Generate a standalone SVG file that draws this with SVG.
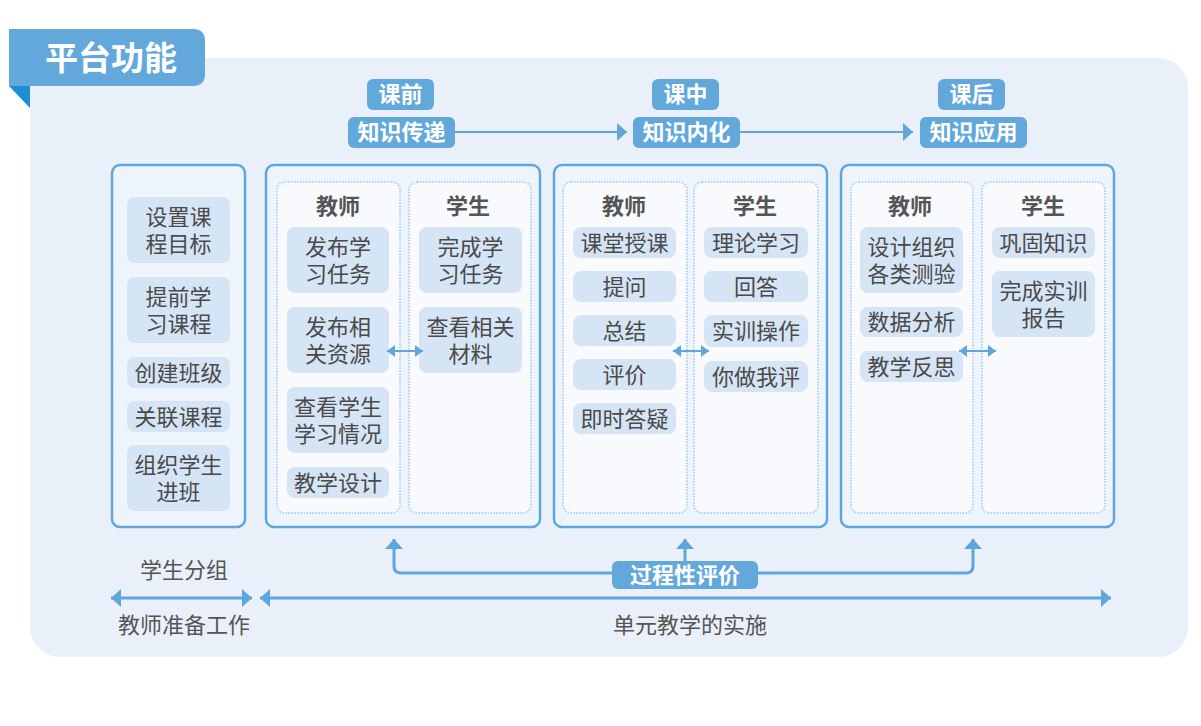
<svg xmlns="http://www.w3.org/2000/svg" width="1201" height="726" viewBox="0 0 1201 726">
<style>
text{font-family:"Liberation Sans","Noto Sans CJK SC",sans-serif;}
.panel{fill:#EEF4FB;stroke:#5FA6DC;stroke-width:2.5;}
.inner{fill:#F8FAFE;stroke:#B3D1EE;stroke-width:2;stroke-dasharray:1.5 1.5;}
.item{fill:#D6E5F5;}
.it{font-size:22px;fill:#4A4A4A;text-anchor:middle;}
.hd{font-size:22px;font-weight:bold;fill:#555555;text-anchor:middle;}
.tag{fill:#62A8DB;}
.tt{font-size:22px;font-weight:bold;fill:#FFFFFF;text-anchor:middle;}
.lbl{font-size:22px;fill:#555555;text-anchor:middle;}
.ln{fill:none;stroke:#5FA6DC;stroke-width:3;}
.lnt{fill:none;stroke:#5FA6DC;stroke-width:2.2;}
</style>
<defs>
<marker id="ah" markerUnits="userSpaceOnUse" markerWidth="12" markerHeight="18" refX="10" refY="9" orient="auto-start-reverse"><path d="M0,0 L10,9 L0,18 Z" fill="#5FA6DC"/></marker>
<marker id="as" markerUnits="userSpaceOnUse" markerWidth="9" markerHeight="12" refX="8" refY="6" orient="auto-start-reverse"><path d="M0,0 L8,6 L0,12 Z" fill="#5FA6DC"/></marker>
</defs>
<rect x="0" y="0" width="1201" height="726" fill="#FFFFFF"/>
<rect x="30" y="58" width="1158" height="599" rx="30" fill="#EAF0F9"/>
<g id="title">
<path d="M9,29 H193 Q205,29 205,41 V74 Q205,86 193,86 H9 Z" fill="#62A8DB"/>
<path d="M9,86 H30 V108 Z" fill="#1B8FD3"/>
<text x="111" y="70" font-size="33" font-weight="bold" fill="#FFFFFF" text-anchor="middle">平台功能</text>
</g>
<g id="stage-pre">
<rect class="tag" x="367" y="79" width="67" height="31" rx="6"/>
<text class="tt" x="400.5" y="102">课前</text>
<rect class="tag" x="348" y="117" width="107" height="31" rx="6"/>
<text class="tt" x="401.5" y="140">知识传递</text>
</g>
<g id="stage-mid">
<rect class="tag" x="652" y="79" width="67" height="31" rx="6"/>
<text class="tt" x="685.5" y="102">课中</text>
<rect class="tag" x="633" y="117" width="107" height="31" rx="6"/>
<text class="tt" x="686.5" y="140">知识内化</text>
</g>
<g id="stage-post">
<rect class="tag" x="938" y="79" width="67" height="31" rx="6"/>
<text class="tt" x="971.5" y="102">课后</text>
<rect class="tag" x="920" y="117" width="107" height="31" rx="6"/>
<text class="tt" x="973.5" y="140">知识应用</text>
</g>
<g id="prep-panel">
<rect class="panel" x="112" y="165" width="133" height="362" rx="8"/>
<rect class="item" x="127" y="197" width="103" height="66" rx="8"/>
<text class="it" x="178.5" y="224.5">设置课<tspan x="178.5" dy="27">程目标</tspan></text>
<rect class="item" x="127" y="277" width="103" height="66" rx="8"/>
<text class="it" x="178.5" y="304.5">提前学<tspan x="178.5" dy="27">习课程</tspan></text>
<rect class="item" x="127" y="357" width="103" height="31" rx="8"/>
<text class="it" x="178.5" y="380.5">创建班级</text>
<rect class="item" x="127" y="401" width="103" height="31" rx="8"/>
<text class="it" x="178.5" y="424.5">关联课程</text>
<rect class="item" x="127" y="445" width="103" height="66" rx="8"/>
<text class="it" x="178.5" y="472.5">组织学生<tspan x="178.5" dy="27">进班</tspan></text>
</g>
<g id="panel-pre">
<rect class="panel" x="266" y="165" width="274" height="362" rx="8"/>
<rect class="inner" x="277" y="182" width="123" height="331" rx="8"/>
<rect class="inner" x="409" y="182" width="122" height="331" rx="8"/>
<text class="hd" x="338" y="214">教师</text>
<text class="hd" x="468" y="214">学生</text>
<rect class="item" x="287" y="227" width="102" height="66" rx="8"/>
<text class="it" x="338" y="254.5">发布学<tspan x="338" dy="27">习任务</tspan></text>
<rect class="item" x="287" y="307" width="102" height="66" rx="8"/>
<text class="it" x="338" y="334.5">发布相<tspan x="338" dy="27">关资源</tspan></text>
<rect class="item" x="287" y="387" width="102" height="66" rx="8"/>
<text class="it" x="338" y="414.5">查看学生<tspan x="338" dy="27">学习情况</tspan></text>
<rect class="item" x="287" y="467" width="102" height="31" rx="8"/>
<text class="it" x="338" y="490.5">教学设计</text>
<rect class="item" x="419" y="227" width="103" height="66" rx="8"/>
<text class="it" x="470.5" y="254.5">完成学<tspan x="470.5" dy="27">习任务</tspan></text>
<rect class="item" x="419" y="307" width="103" height="66" rx="8"/>
<text class="it" x="470.5" y="334.5">查看相关<tspan x="470.5" dy="27">材料</tspan></text>
</g>
<g id="panel-mid">
<rect class="panel" x="554" y="165" width="273" height="362" rx="8"/>
<rect class="inner" x="563" y="182" width="124" height="331" rx="8"/>
<rect class="inner" x="694" y="182" width="124" height="331" rx="8"/>
<text class="hd" x="624" y="214">教师</text>
<text class="hd" x="755" y="214">学生</text>
<rect class="item" x="573" y="227" width="103" height="31" rx="8"/>
<text class="it" x="624.5" y="250.5">课堂授课</text>
<rect class="item" x="573" y="271" width="103" height="31" rx="8"/>
<text class="it" x="624.5" y="294.5">提问</text>
<rect class="item" x="573" y="315" width="103" height="31" rx="8"/>
<text class="it" x="624.5" y="338.5">总结</text>
<rect class="item" x="573" y="359" width="103" height="31" rx="8"/>
<text class="it" x="624.5" y="382.5">评价</text>
<rect class="item" x="573" y="403" width="103" height="31" rx="8"/>
<text class="it" x="624.5" y="426.5">即时答疑</text>
<rect class="item" x="704" y="227" width="104" height="31" rx="8"/>
<text class="it" x="756" y="250.5">理论学习</text>
<rect class="item" x="704" y="271" width="104" height="31" rx="8"/>
<text class="it" x="756" y="294.5">回答</text>
<rect class="item" x="704" y="315" width="104" height="32" rx="8"/>
<text class="it" x="756" y="339">实训操作</text>
<rect class="item" x="704" y="361" width="104" height="31" rx="8"/>
<text class="it" x="756" y="384.5">你做我评</text>
</g>
<g id="panel-post">
<rect class="panel" x="841" y="165" width="273" height="362" rx="8"/>
<rect class="inner" x="851" y="182" width="122" height="331" rx="8"/>
<rect class="inner" x="982" y="182" width="123" height="331" rx="8"/>
<text class="hd" x="910" y="214">教师</text>
<text class="hd" x="1043" y="214">学生</text>
<rect class="item" x="860" y="227" width="103" height="66" rx="8"/>
<text class="it" x="911.5" y="254.5">设计组织<tspan x="911.5" dy="27">各类测验</tspan></text>
<rect class="item" x="860" y="307" width="103" height="30" rx="8"/>
<text class="it" x="911.5" y="330">数据分析</text>
<rect class="item" x="860" y="351" width="103" height="31" rx="8"/>
<text class="it" x="911.5" y="374.5">教学反思</text>
<rect class="item" x="992" y="227" width="103" height="31" rx="8"/>
<text class="it" x="1043.5" y="250.5">巩固知识</text>
<rect class="item" x="992" y="271" width="103" height="66" rx="8"/>
<text class="it" x="1043.5" y="298.5">完成实训<tspan x="1043.5" dy="27">报告</tspan></text>
</g>
<g id="connectors">
<path class="lnt" d="M455,132 H627" marker-end="url(#ah)"/>
<path class="lnt" d="M740,132 H913" marker-end="url(#ah)"/>
<path class="lnt" d="M387,351 H423" marker-start="url(#as)" marker-end="url(#as)"/>
<path class="lnt" d="M673,351 H709" marker-start="url(#as)" marker-end="url(#as)"/>
<path class="lnt" d="M959,351 H996" marker-start="url(#as)" marker-end="url(#as)"/>
<path class="ln" d="M394,539 V566 Q394,573 401,573 H966 Q973,573 973,566 V539" marker-start="url(#ah)" marker-end="url(#ah)"/>
<path class="ln" d="M685,561 V539" marker-end="url(#ah)"/>
<path class="ln" d="M111,598 H252" marker-start="url(#ah)" marker-end="url(#ah)"/>
<path class="ln" d="M260,598 H1111" marker-start="url(#ah)" marker-end="url(#ah)"/>
</g>
<g id="eval-label">
<rect class="tag" x="612" y="561" width="146" height="28" rx="6"/>
<text class="tt" x="685" y="583">过程性评价</text>
</g>
<g id="bottom-labels">
<text class="lbl" x="184" y="578">学生分组</text>
<text class="lbl" x="184" y="633">教师准备工作</text>
<text class="lbl" x="690" y="633">单元教学的实施</text>
</g>
</svg>
